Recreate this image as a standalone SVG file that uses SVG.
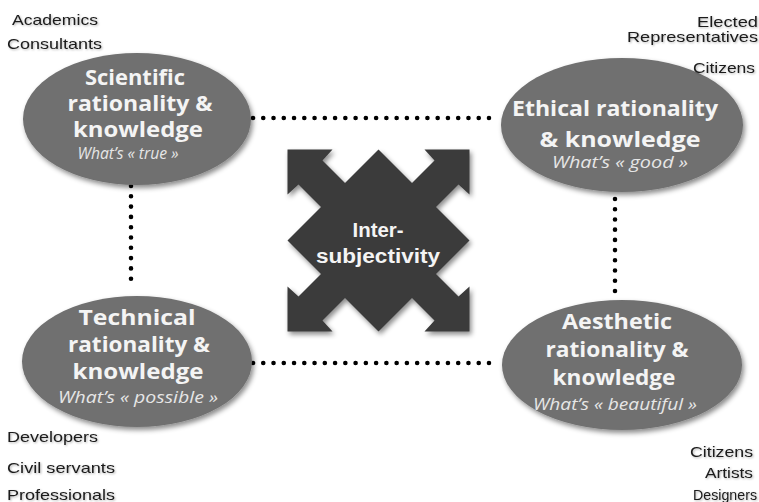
<svg xmlns="http://www.w3.org/2000/svg" width="759" height="502" viewBox="0 0 759 502">
  <defs>
    <filter id="shadow" x="-10%" y="-10%" width="125%" height="130%">
      <feDropShadow dx="2" dy="3" stdDeviation="2.5" flood-color="#000" flood-opacity="0.45"/>
    </filter>
    <filter id="textShadow" x="-5%" y="-20%" width="110%" height="150%">
      <feDropShadow dx="1" dy="1" stdDeviation="0.8" flood-color="#000" flood-opacity="0.3"/>
    </filter>
  </defs>
  <style>
    .bubble { fill: #707070; filter: url(#shadow); }
    .title { font-family: "Open Sans", "DejaVu Sans", sans-serif; font-weight: 700; font-size: 21px; fill: #f4f4f4; text-anchor: middle; }
    .sub { font-family: "Open Sans", "DejaVu Sans", sans-serif; font-style: italic; font-size: 16px; fill: #e6e6e6; text-anchor: middle; }
    .who { font-family: "Liberation Sans", Arial, sans-serif; font-size: 15px; fill: #1a1a1a; filter: url(#textShadow); }
    .right { text-anchor: end; }
    .dots { stroke: #000; stroke-width: 4.6; stroke-linecap: round; fill: none; }
    .hub { fill: #3a3a3a; filter: url(#shadow); }
    .hubText { font-family: "Liberation Sans", Arial, sans-serif; font-weight: 700; font-size: 20px; fill: #f4f4f4; text-anchor: middle; }
  </style>

  <rect width="759" height="502" fill="#ffffff"/>

  <!-- dotted links between the four kinds of rationality -->
  <g id="connectors">
    <line class="dots" x1="253" y1="118" x2="489" y2="118" stroke-dasharray="0 10.26"/>
    <line class="dots" x1="253" y1="363" x2="489" y2="363" stroke-dasharray="0 10.26"/>
    <line class="dots" x1="131" y1="186" x2="131" y2="289" stroke-dasharray="0 10.3"/>
    <line class="dots" x1="615" y1="199" x2="615" y2="291" stroke-dasharray="0 10.22"/>
  </g>

  <!-- central four-way arrow -->
  <g id="intersubjectivity">
    <path class="hub" transform="translate(378.5 240.5)" d="M0,-91 L33.5,-57.5 L56,-80 L46,-91 L91,-91 L91,-46 L80,-56 L57.5,-33.5 L91,0 L57.5,33.5 L80,56 L91,46 L91,91 L46,91 L56,80 L33.5,57.5 L0,91 L-33.5,57.5 L-56,80 L-46,91 L-91,91 L-91,46 L-80,56 L-57.5,33.5 L-91,0 L-57.5,-33.5 L-80,-56 L-91,-46 L-91,-91 L-46,-91 L-56,-80 L-33.5,-57.5 Z"/>
    <text class="hubText" x="378" y="237" textLength="51" lengthAdjust="spacingAndGlyphs">Inter-</text>
    <text class="hubText" x="378" y="263" textLength="124" lengthAdjust="spacingAndGlyphs">subjectivity</text>
  </g>

  <!-- scientific -->
  <g id="scientific">
    <ellipse class="bubble" cx="137" cy="119" rx="114" ry="66"/>
    <text class="title" x="135" y="85" textLength="100" lengthAdjust="spacingAndGlyphs">Scientific</text>
    <text class="title" x="140" y="111" textLength="145" lengthAdjust="spacingAndGlyphs">rationality  &amp;</text>
    <text class="title" x="138" y="137" textLength="130" lengthAdjust="spacingAndGlyphs">knowledge</text>
    <text class="sub" x="128" y="159" textLength="101" lengthAdjust="spacingAndGlyphs">What’s « true »</text>
  </g>

  <!-- ethical -->
  <g id="ethical">
    <ellipse class="bubble" cx="622" cy="125" rx="121" ry="67"/>
    <text class="title" x="615" y="116" textLength="206" lengthAdjust="spacingAndGlyphs">Ethical rationality</text>
    <text class="title" x="620" y="147" textLength="161" lengthAdjust="spacingAndGlyphs">&amp; knowledge</text>
    <text class="sub" x="620" y="168" textLength="136" lengthAdjust="spacingAndGlyphs">What’s « good »</text>
  </g>

  <!-- technical -->
  <g id="technical">
    <ellipse class="bubble" cx="137" cy="361.5" rx="115" ry="65.5"/>
    <text class="title" x="137" y="325" textLength="117" lengthAdjust="spacingAndGlyphs">Technical</text>
    <text class="title" x="139" y="352" textLength="142" lengthAdjust="spacingAndGlyphs">rationality &amp;</text>
    <text class="title" x="138" y="379" textLength="131" lengthAdjust="spacingAndGlyphs">knowledge</text>
    <text class="sub" x="138" y="403" textLength="160" lengthAdjust="spacingAndGlyphs">What’s « possible »</text>
  </g>

  <!-- aesthetic -->
  <g id="aesthetic">
    <ellipse class="bubble" cx="622" cy="365" rx="120" ry="65"/>
    <text class="title" x="617" y="329" textLength="110" lengthAdjust="spacingAndGlyphs">Aesthetic</text>
    <text class="title" x="617" y="357" textLength="143" lengthAdjust="spacingAndGlyphs">rationality &amp;</text>
    <text class="title" x="614" y="385" textLength="123" lengthAdjust="spacingAndGlyphs">knowledge</text>
    <text class="sub" x="615" y="410" textLength="164" lengthAdjust="spacingAndGlyphs">What’s « beautiful »</text>
  </g>

  <!-- actors attached to each rationality -->
  <g id="actors-scientific">
    <text class="who" x="12" y="25" textLength="86" lengthAdjust="spacingAndGlyphs">Academics</text>
    <text class="who" x="7" y="49" textLength="95" lengthAdjust="spacingAndGlyphs">Consultants</text>
  </g>
  <g id="actors-ethical">
    <text class="who right" x="758" y="27" textLength="61" lengthAdjust="spacingAndGlyphs">Elected</text>
    <text class="who right" x="758" y="42" textLength="131" lengthAdjust="spacingAndGlyphs">Representatives</text>
    <text class="who right" x="755" y="73" textLength="62" lengthAdjust="spacingAndGlyphs">Citizens</text>
  </g>
  <g id="actors-technical">
    <text class="who" x="7" y="442" textLength="91" lengthAdjust="spacingAndGlyphs">Developers</text>
    <text class="who" x="7" y="473" textLength="108" lengthAdjust="spacingAndGlyphs">Civil servants</text>
    <text class="who" x="7" y="500" textLength="108" lengthAdjust="spacingAndGlyphs">Professionals</text>
  </g>
  <g id="actors-aesthetic">
    <text class="who right" x="753" y="457" textLength="63" lengthAdjust="spacingAndGlyphs">Citizens</text>
    <text class="who right" x="753" y="478" textLength="48" lengthAdjust="spacingAndGlyphs">Artists</text>
    <text class="who right" x="757" y="500" textLength="64" lengthAdjust="spacingAndGlyphs">Designers</text>
  </g>
</svg>
